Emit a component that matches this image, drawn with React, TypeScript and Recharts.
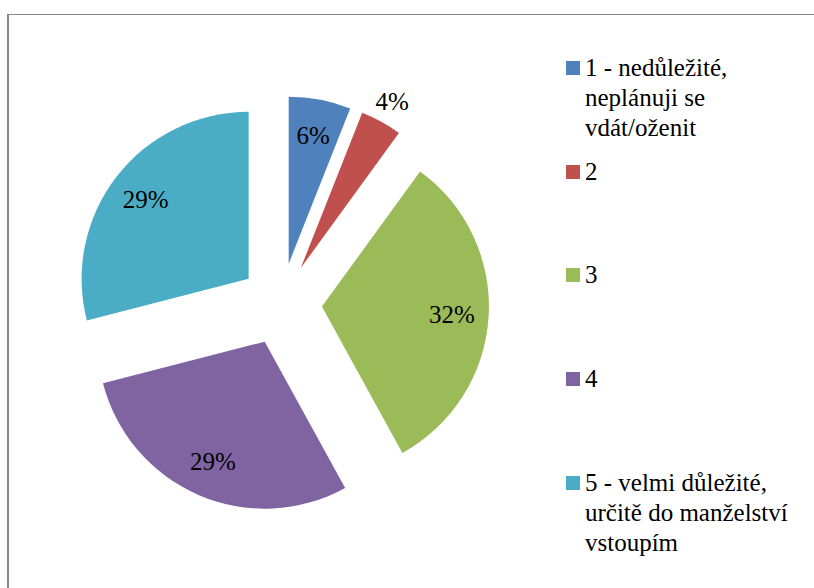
import React from "react";
import { PieChart, Pie, Cell } from "recharts";

const categories = [
  "1 - nedůležité,\nneplánuji se\nvdát/oženit",
  "2",
  "3",
  "4",
  "5 - velmi důležité,\nurčitě do manželství\nvstoupím",
];
const shares = [6, 4, 32, 29, 29];
const colors = ["#4F81BD", "#C0504D", "#9BBB59", "#8064A2", "#4BACC6"];

const W = 814;
const H = 588;
const CX = 281;
const CY = 304;
const RADIUS = 167;
const EXPLODE = 41;
const RAD = Math.PI / 180;
const FONT = 'Tinos, "Nimbus Roman", FreeSerif, "Liberation Serif", "Times New Roman", Times, serif';

const total = shares.reduce((a, b) => a + b, 0);
let acc = 0;
const slices = shares.map((value, i) => {
  const start = acc;
  acc += value;
  const startAngle = 90 - (start / total) * 360;
  const endAngle = 90 - (acc / total) * 360;
  const mid = (startAngle + endAngle) / 2;
  return {
    name: categories[i],
    value,
    color: colors[i],
    startAngle,
    endAngle,
    mid,
    cx: CX + EXPLODE * Math.cos(mid * RAD),
    cy: CY - EXPLODE * Math.sin(mid * RAD),
  };
});

function PctLabel({ s }: { s: (typeof slices)[number] }) {
  const pct = Math.round((s.value / total) * 100);
  // small slices get their label outside, like Excel's best fit
  const dist = pct < 5 ? RADIUS + 23 : RADIUS * 0.78;
  const x = s.cx + dist * Math.cos(s.mid * RAD);
  const y = s.cy - dist * Math.sin(s.mid * RAD);
  return (
    <text x={x} y={y} textAnchor="middle" dominantBaseline="central"
      fontFamily={FONT} style={{ fontFamily: FONT, fontSize: 25, fill: "#000" }}>
      {pct}%
    </text>
  );
}

function LegendBox() {
  return (
    <div style={{ position: "absolute", left: 566, top: 53, fontFamily: FONT, fontSize: 25, lineHeight: "30px", color: "#000" }}>
      {slices.map((s, i) => (
        <div key={i} style={{ position: "absolute", left: 0, top: i * 103.7, display: "flex", alignItems: "flex-start" }}>
          <span style={{ width: 14, height: 14, background: s.color, marginTop: 8, marginRight: 5, flex: "none" }} />
          <span style={{ whiteSpace: "pre" }}>{s.name}</span>
        </div>
      ))}
    </div>
  );
}

export default function App() {
  return (
    <div style={{ position: "absolute", left: 0, top: 0, width: W, height: H, overflow: "hidden", background: "#fff", fontFamily: FONT }}>
      <div style={{
        position: "absolute", left: 7, top: 14, width: 805, height: 620,
        borderTop: "1.5px solid #878787", borderLeft: "2px solid #878787", borderRight: "1px solid #878787",
      }} />
      <PieChart width={W} height={H} margin={{ top: 0, right: 0, bottom: 0, left: 0 }}>
        {slices.map((s, i) => (
          <Pie
            key={i}
            data={[s]}
            dataKey="value"
            nameKey="name"
            cx={s.cx}
            cy={s.cy}
            outerRadius={RADIUS}
            startAngle={s.startAngle}
            endAngle={s.endAngle}
            stroke="none"
            labelLine={false}
            label={() => <PctLabel s={s} />}
            isAnimationActive={false}
          >
            <Cell fill={s.color} />
          </Pie>
        ))}
      </PieChart>
      <LegendBox />
    </div>
  );
}
